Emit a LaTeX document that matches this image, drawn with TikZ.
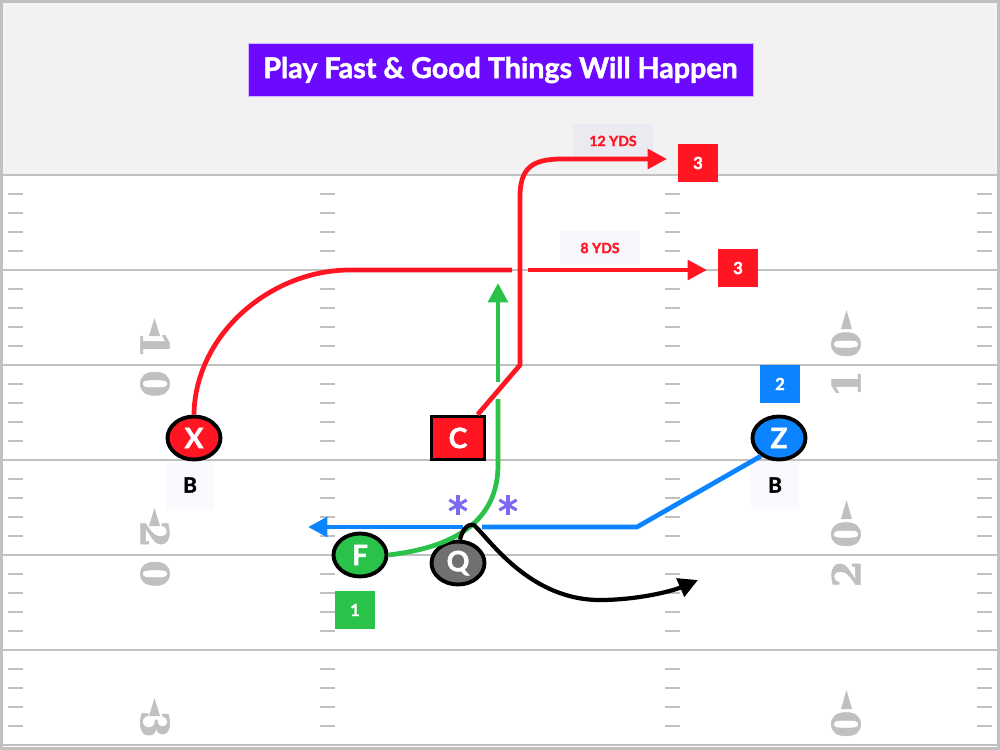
\documentclass[tikz,border=0pt]{standalone}
\usepackage{fontspec}
\setmainfont{Lato}[BoldFeatures={FakeBold=1.6}]
\newfontfamily\yardfont{DejaVu Serif}[BoldFeatures={FakeBold=1.5}]
\usetikzlibrary{arrows.meta,shapes.geometric}

\definecolor{fieldgray}{RGB}{242,242,242}
\definecolor{linegray}{RGB}{192,192,192}
\definecolor{playred}{RGB}{255,22,34}
\definecolor{playblue}{RGB}{12,132,255}
\definecolor{playgreen}{RGB}{42,194,72}
\definecolor{qgray}{RGB}{112,112,112}
\definecolor{titlepurple}{RGB}{108,10,255}
\definecolor{starpurple}{RGB}{124,106,240}
\definecolor{tagbg}{RGB}{120,90,220}

\begin{document}
\begin{tikzpicture}[x=0.02cm, y=-0.02cm,
  route/.style={line width=2.7pt, line join=round},
  ahead/.style={-{Triangle[length=11pt, width=11pt]}},
  player/.style={ellipse, draw=black, line width=2.2pt, minimum width=1.06cm,
    minimum height=0.86cm, inner sep=0pt, text=white,
    font=\fontsize{16}{16}\selectfont\bfseries},
  tag/.style={rectangle, minimum width=0.8cm, minimum height=0.76cm, inner sep=0pt,
    text=white, font=\fontsize{9.5}{10}\selectfont\bfseries},
  yds/.style={fill=tagbg, fill opacity=0.05, text opacity=1, text=playred,
    minimum width=1.6cm, minimum height=0.68cm, font=\fontsize{8}{9}\selectfont\bfseries},
  side/.style={fill=tagbg, fill opacity=0.04, text opacity=1, minimum size=0.96cm,
    font=\fontsize{12}{12}\selectfont\bfseries},
  yardnum/.style={text=linegray, inner sep=0pt,
    font=\yardfont\bfseries\fontsize{22}{22}\selectfont}]
  \useasboundingbox (0,0) rectangle (1000,750);
  \clip (0,0) rectangle (1000,750);

  % 1. field
  \fill[fieldgray] (0,0) rectangle (1000,175);
  \foreach \y in {175,270,...,745}
    \draw[linegray, line width=1.2pt] (0,\y) -- (1000,\y);
  \foreach \x in {8,320,665,977}
    \foreach \y in {175,270,...,650}
      \foreach \k in {19,38,57,76}
        \draw[linegray, line width=1.2pt] (\x,\y+\k) -- +(15,0);
  \draw[linegray, line width=1.8pt] (1.5,1.5) rectangle (998.5,748.5);

  % 2. yard numbers
  \foreach \ln/\a in {365/1, 555/2, 745/3} {
    \node[yardnum, rotate=-90, anchor=east] (numL\a) at (155,\ln-7) {\a};
    \node[yardnum, rotate=-90, anchor=west] (zeroL\a) at (155,\ln+5) {0};
    \fill[linegray] (149,\ln-29) -- (160,\ln-29) -- (154.5,\ln-47) -- cycle;
    \node[yardnum, rotate=90, anchor=east] (numR\a) at (846,\ln+5) {\a};
    \node[yardnum, rotate=90, anchor=west] (zeroR\a) at (846,\ln-7) {0};
    \fill[linegray] (841,\ln-36) -- (852,\ln-36) -- (846.5,\ln-55) -- cycle;
  }

  % 3. title
  \node[fill=titlepurple, draw=titlepurple!30!white, minimum width=10.1cm,
    minimum height=1.06cm, text=white, font=\fontsize{16.3}{16}\selectfont\bfseries]
    (title) at (500.5,70) {Play Fast \& Good Things Will Happen};

  % 4. players
  \node[player, fill=playred] (X) at (194,438) {X};
  \node[player, rectangle, fill=playred] (C) at (458,438) {C};
  \node[player, fill=playblue] (Z) at (779,438) {Z};
  \node[player, fill=playgreen] (F) at (360,555) {F};
  \node[player, fill=qgray] (Q) at (458,563) {Q};
  \node[side] (XB) at (190,485) {B};
  \node[side] (ZB) at (775,485) {B};

  % 5. reads
  \node[tag, fill=playred] (read12) at (698,163) {3};
  \node[tag, fill=playred] (read8) at (738,268) {3};
  \node[tag, fill=playblue] (read2) at (780,384) {2};
  \node[tag, fill=playgreen] (read1) at (355,610) {1};
  \node[yds] (yds12) at (613,141) {12 YDS};
  \node[yds] (yds8) at (600,248) {8 YDS};

  % 6. routes
  \coordinate (Xflat) at (350,270);
  \coordinate (Xgap) at (512,270);
  \coordinate (Xgo) at (528,270);
  \coordinate (Xend) at (707,270);
  \draw[route, playred] (X.north) .. controls (195,335) and (270,270) .. (Xflat) -- (Xgap);
  \draw[route, playred, ahead] (Xgo) -- (Xend);

  \coordinate (Cbend) at (520,365);
  \coordinate (Cend) at (667,159);
  \draw[route, playred, ahead] (C.50) -- (Cbend) -- (520,197)
    .. controls (520,168) and (532,159) .. (562,159) -- (Cend);

  \coordinate (Fturn) at (498,465);
  \coordinate (Fgap) at (498,399);
  \coordinate (Fgo) at (498,382);
  \coordinate (Fend) at (498,283);
  \draw[route, playgreen] (F.east) .. controls (430,550) and (498,535) .. (Fturn) -- (Fgap);
  \draw[route, playgreen, ahead] (Fgo) -- (Fend);

  \coordinate (Zbend) at (637,527);
  \coordinate (Zgap) at (482,527);
  \coordinate (Zgo) at (463,527);
  \coordinate (Zend) at (308,527);
  \draw[route, playblue] (Z.225) -- (Zbend) -- (Zgap);
  \draw[route, playblue, ahead] (Zgo) -- (Zend);

  \coordinate (Qhook) at (474,525);
  \coordinate (Qend) at (698,580);
  \draw[route, black, line width=2.4pt, ahead] (Q.85) .. controls (462,530) and (468,523) .. (Qhook)
    .. controls (490,540) and (530,600) .. (600,600)
    .. controls (635,600) and (670,592) .. (Qend);

  % 7. stars
  \foreach \sx in {458,508}
    \foreach \a in {90,30,150}
      \draw[starpurple, line width=1.8pt] (\sx,505) +(\a:10) -- +(\a+180:10);
\end{tikzpicture}
\end{document}
